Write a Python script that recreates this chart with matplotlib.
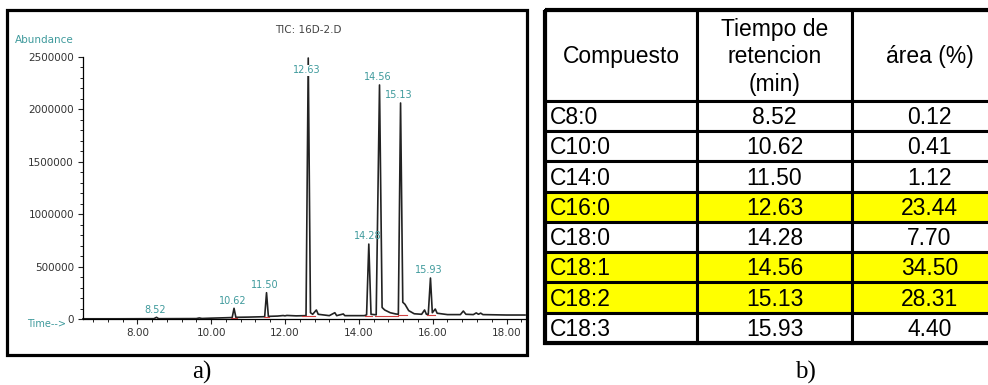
import matplotlib
matplotlib.use("Agg")
import matplotlib.pyplot as plt
from matplotlib.patches import Rectangle
from matplotlib.ticker import MultipleLocator

# --- a) TIC chromatogram (time min, abundance)
trace_time = [6.53, 7.50, 8.45, 8.52, 8.58, 9.60, 9.68, 9.75, 10.00, 10.40,
              10.57, 10.62, 10.67, 11.00, 11.45, 11.50, 11.55, 11.80, 11.95,
              12.00, 12.05, 12.30, 12.57, 12.63, 12.69, 12.75, 12.85, 12.90,
              13.20, 13.35, 13.40, 13.58, 13.62, 14.15, 14.21, 14.27, 14.33,
              14.47, 14.56, 14.63, 14.70, 14.85, 15.00, 15.07, 15.13, 15.19,
              15.25, 15.35, 15.50, 15.70, 15.78, 15.83, 15.88, 15.94, 15.99,
              16.07, 16.12, 16.40, 16.75, 16.83, 16.90, 17.10, 17.18, 17.24,
              17.30, 17.36, 18.00, 18.50]
trace_abund = [2000, 2000, 3000, 16000, 3000, 4000, 10000, 5000, 8000, 12000,
               14000, 102000, 16000, 18000, 22000, 251000, 25000, 28000, 33000,
               30000, 34000, 30000, 32000, 2490000, 60000, 45000, 86000, 45000,
               32000, 60000, 32000, 48000, 32000, 32000, 40000, 715000, 45000,
               40000, 2233000, 110000, 86000, 60000, 48000, 45000, 2061000, 160000,
               140000, 80000, 50000, 45000, 86000, 45000, 45000, 391000, 60000,
               95000, 55000, 42000, 42000, 76000, 45000, 42000, 58000, 45000,
               56000, 42000, 38000, 38000]

# labelled peaks
peak_times = [8.52, 10.62, 11.50, 12.63, 14.28, 14.56, 15.13, 15.93]
peak_heights = [16000, 102000, 251000, 2490000, 715000, 2233000, 2061000, 391000]

# red integration baselines
red_start = [8.45, 10.55, 11.44, 12.45, 14.18, 14.45, 15.06, 15.85]
red_end = [8.60, 10.70, 11.58, 12.80, 14.36, 15.06, 15.30, 16.05]
red_level = [2000, 12000, 21000, 28000, 30000, 32000, 36000, 38000]

# --- b) table
compounds = ["C8:0", "C10:0", "C14:0", "C16:0", "C18:0", "C18:1", "C18:2", "C18:3"]
ret_times = [8.52, 10.62, 11.50, 12.63, 14.28, 14.56, 15.13, 15.93]
areas = [0.12, 0.41, 1.12, 23.44, 7.70, 34.50, 28.31, 4.40]
highlighted = ["C16:0", "C18:1", "C18:2"]
headers = ["Compuesto", "Tiempo de\nretencion\n(min)", "área (%)"]

W, H = 988, 385
TEAL = "#3f9a9c"
INK = "#333333"

fig = plt.figure(figsize=(W / 100, H / 100), dpi=100)

# chromatogram axes
ax = fig.add_axes([83 / W, (H - 319) / H, 442 / W, 262 / H])
ax.plot(trace_time, trace_abund, color="#222222", lw=1.2, clip_on=False)
for s, e, lv in zip(red_start, red_end, red_level):
    ax.plot([s, e], [lv, lv], color="#d04040", lw=0.8)
ax.set_xlim(6.53, 18.5)
ax.set_ylim(0, 2500000)
for side in ("top", "right"):
    ax.spines[side].set_visible(False)
ax.spines["left"].set_linewidth(0.9)
ax.spines["bottom"].set_linewidth(0.9)
ax.xaxis.set_major_locator(MultipleLocator(2))
ax.xaxis.set_minor_locator(MultipleLocator(0.4))
ax.yaxis.set_major_locator(MultipleLocator(500000))
ax.yaxis.set_minor_locator(MultipleLocator(100000))
ax.xaxis.set_major_formatter(lambda v, p: f"{v:.2f}")
ax.yaxis.set_major_formatter(lambda v, p: f"{v:.0f}")
ax.tick_params(which="major", length=3.5, width=0.8, labelsize=7.5,
               labelcolor=INK, color="#222222")
ax.tick_params(which="minor", length=2, width=0.7, color="#222222")
ax.tick_params(axis="y", pad=3)
ax.tick_params(axis="x", pad=3)

for t, h in zip(peak_times, peak_heights):
    y = min(h, 2300000)
    bbox = dict(facecolor="white", edgecolor="none", pad=0.5) if h > y else None
    ax.annotate(f"{t:.2f}", (t, y), xytext=(-1, 2), textcoords="offset points",
                ha="center", va="bottom", fontsize=7, color=TEAL, bbox=bbox)

fig.text(15 / W, (H - 40) / H, "Abundance", fontsize=7.5, color=TEAL, va="center")
fig.text(66 / W, (H - 324) / H, "Time-->", fontsize=7, color=TEAL, va="center",
         ha="right")
fig.text(275 / W, (H - 30) / H, "TIC: 16D-2.D", fontsize=7.5, color="#444444",
         va="center")
fig.add_artist(Rectangle((7 / W, 30 / H), 520 / W, 345 / H, transform=fig.transFigure,
                         fill=False, lw=2.3, edgecolor="black"))

# table axes
col_w = [152, 155, 155]
col_x = [0, 152, 307]
tab = fig.add_axes([545 / W, (H - 343) / H, 462 / W, 333 / H])
tab.set_xlim(0, sum(col_w))
tab.set_ylim(len(compounds) + 3, 0)
tab.axis("off")

font = dict(family=["Liberation Sans", "DejaVu Sans"], fontsize=16.5, color="black")
for j, txt in enumerate(headers):
    tab.add_patch(Rectangle((col_x[j], 0), col_w[j], 3, facecolor="white",
                            edgecolor="black", lw=2.2, clip_on=False))
    tab.text(col_x[j] + col_w[j] / 2, 1.55, txt, ha="center", va="center",
             linespacing=1.25, **font)

for i, (c, rt, ar) in enumerate(zip(compounds, ret_times, areas)):
    y0 = 3 + i
    fc = "#ffff00" if c in highlighted else "white"
    cells = [c, f"{rt:.2f}", f"{ar:.2f}"]
    for j, txt in enumerate(cells):
        tab.add_patch(Rectangle((col_x[j], y0), col_w[j], 1, facecolor=fc,
                                edgecolor="black", lw=2.2, clip_on=False))
        if j == 0:
            tab.text(col_x[j] + 5, y0 + 0.55, txt, ha="left", va="center", **font)
        else:
            tab.text(col_x[j] + col_w[j] / 2, y0 + 0.55, txt, ha="center",
                     va="center", **font)
tab.add_patch(Rectangle((0, 0), sum(col_w), len(compounds) + 3, fill=False,
                        edgecolor="black", lw=3, clip_on=False))

serif = dict(family=["Liberation Serif", "DejaVu Serif"], fontsize=18)
fig.text(202 / W, (H - 372) / H, "a)", ha="center", va="center", **serif)
fig.text(805 / W, (H - 372) / H, "b)", ha="center", va="center", **serif)

fig.savefig("out.png", dpi=100)
